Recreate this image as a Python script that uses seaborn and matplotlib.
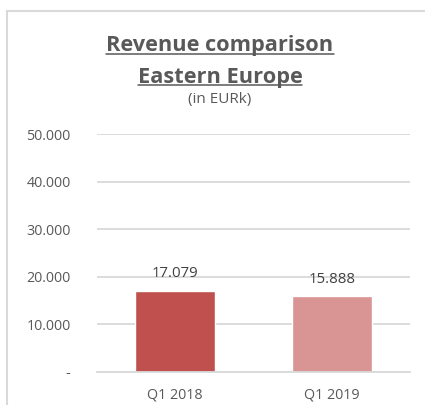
import matplotlib
matplotlib.use("Agg")
import matplotlib.pyplot as plt
import seaborn as sns
import pandas as pd
from matplotlib.lines import Line2D
from matplotlib.patches import Rectangle

categories = ["Q1 2018", "Q1 2019"]
values = [17079, 15888]
bar_colors = ["#C0504D", "#D99594"]
yticks = [0, 10000, 20000, 30000, 40000, 50000]
ytick_labels = ["-", "10.000", "20.000", "30.000", "40.000", "50.000"]
value_labels = ["17.079", "15.888"]
title_lines = ["Revenue comparison", "Eastern Europe"]
subtitle = "(in EURk)"

sns.set_theme(style="white")
plt.rcParams['font.family'] = ['Open Sans', 'DejaVu Sans']

df = pd.DataFrame({"Quarter": categories, "Revenue": values})

W, H = 425, 405
fig = plt.figure(figsize=(W / 100, H / 100), dpi=100)
ax = fig.add_axes([97 / W, 1 - 372 / H, (410 - 97) / W, (372 - 134) / H])

sns.barplot(data=df, x="Quarter", y="Revenue", hue="Quarter", palette=bar_colors,
            width=0.51, ax=ax, legend=False, saturation=1)

ax.set_ylim(0, 50000)
ax.set_yticks(yticks)
ax.set_yticklabels(ytick_labels)
ax.set_xlabel("")
ax.set_ylabel("")
for s in ["top", "right", "left"]:
    ax.spines[s].set_visible(False)
ax.spines["bottom"].set_color("#D9D9D9")
ax.spines["bottom"].set_linewidth(1.3)
ax.yaxis.grid(True, color="#D9D9D9", linewidth=1.3)
ax.set_axisbelow(True)
ax.tick_params(axis="both", length=0, labelsize=10.3, labelcolor="#595959")
ax.tick_params(axis="y", pad=19)
ax.tick_params(axis="x", pad=11)

for i, (v, lab) in enumerate(zip(values, value_labels)):
    ax.annotate(lab, (i, v), xytext=(0, 9.9), textcoords="offset points",
                ha="center", va="baseline", fontsize=10.8, color="#404040")

# chart frame
fig.patches.append(Rectangle((7 / W, -0.1), 1.2, 1 - 11 / H + 0.1, transform=fig.transFigure,
                             fill=False, edgecolor="#D9D9D9", linewidth=1.5))

cx = 220 / W
t1 = fig.text(cx, 1 - 51.5 / H, title_lines[0], ha="center", va="baseline",
              fontsize=15.7, fontweight="bold", color="#595959")
t2 = fig.text(cx, 1 - 82.5 / H, title_lines[1], ha="center", va="baseline",
              fontsize=15.7, fontweight="bold", color="#595959")
fig.text(cx, 1 - 102.5 / H, subtitle, ha="center", va="baseline", fontsize=11, color="#595959")

for t in (t1, t2):
    fig.canvas.draw()
    r = fig.canvas.get_renderer()
    bb = t.get_window_extent(renderer=r)
    tx, ty = t.get_position()
    y = ty * H - 2.5
    fig.add_artist(Line2D([bb.x0 / W, bb.x1 / W], [y / H, y / H], transform=fig.transFigure,
                          color="#595959", linewidth=1.1))

fig.savefig("out.png", dpi=100)
